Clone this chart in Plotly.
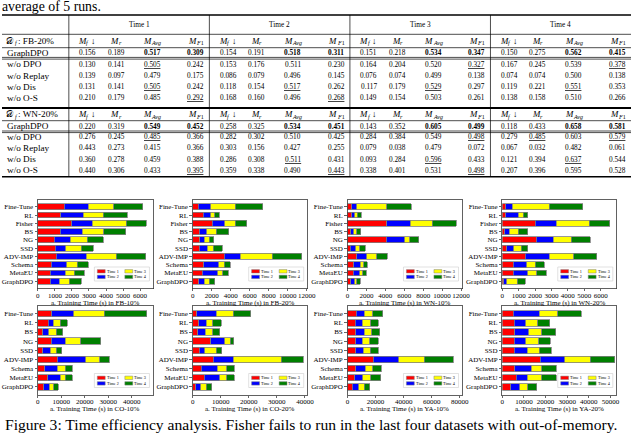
import plotly.graph_objects as go

W, H = 640, 433
SERIF = "Liberation Serif"


def X(p):
    return p / W


def Y(p):
    return 1 - p / H


# ---------------- table data ----------------
TIME_HEADERS = ["Time 1", "Time 2", "Time 3", "Time 4"]
METRIC_SUBS = ["<i>f</i>", "<i>r</i>", "<i>Avg</i>", "<i>F</i>1"]
METRIC_SUB_EM = [0.278, 0.389, 1.555, 1.111]
METRIC_ARROW = [True, False, False, False]
VARIANTS = ["GraphDPO", "w/o DPO", "w/o Replay", "w/o Dis", "w/o O-S"]

FB20_NAME = ": FB-20%"
FB20_SCORES = [
    [0.156, 0.189, 0.517, 0.309, 0.154, 0.191, 0.518, 0.311, 0.151, 0.218, 0.534, 0.347, 0.150, 0.275, 0.562, 0.415],
    [0.130, 0.141, 0.505, 0.242, 0.153, 0.176, 0.511, 0.230, 0.164, 0.204, 0.520, 0.327, 0.167, 0.245, 0.539, 0.378],
    [0.139, 0.097, 0.479, 0.175, 0.086, 0.079, 0.496, 0.145, 0.076, 0.074, 0.499, 0.138, 0.074, 0.074, 0.500, 0.138],
    [0.131, 0.141, 0.505, 0.242, 0.118, 0.154, 0.517, 0.262, 0.117, 0.179, 0.529, 0.297, 0.119, 0.221, 0.551, 0.353],
    [0.210, 0.179, 0.485, 0.292, 0.168, 0.160, 0.496, 0.268, 0.149, 0.154, 0.503, 0.261, 0.138, 0.158, 0.510, 0.266],
]
FB20_UNDERLINE = [(1, 2), (1, 11), (1, 15), (3, 2), (3, 6), (3, 10), (3, 14), (4, 3), (4, 7)]

WN20_NAME = ": WN-20%"
WN20_SCORES = [
    [0.220, 0.319, 0.549, 0.452, 0.258, 0.325, 0.534, 0.451, 0.143, 0.352, 0.605, 0.499, 0.118, 0.433, 0.658, 0.581],
    [0.276, 0.245, 0.485, 0.366, 0.282, 0.302, 0.510, 0.425, 0.284, 0.384, 0.549, 0.498, 0.279, 0.485, 0.603, 0.579],
    [0.443, 0.273, 0.415, 0.366, 0.303, 0.156, 0.427, 0.255, 0.079, 0.038, 0.479, 0.072, 0.067, 0.032, 0.482, 0.061],
    [0.360, 0.278, 0.459, 0.388, 0.286, 0.308, 0.511, 0.431, 0.093, 0.284, 0.596, 0.433, 0.121, 0.394, 0.637, 0.544],
    [0.440, 0.306, 0.433, 0.395, 0.359, 0.338, 0.490, 0.443, 0.338, 0.401, 0.531, 0.498, 0.207, 0.396, 0.595, 0.528],
]
WN20_UNDERLINE = [(1, 2), (1, 11), (1, 13), (1, 15), (3, 6), (3, 10), (3, 14), (4, 3), (4, 7), (4, 11)]
BEST_COLS = [2, 3]  # M_Avg and M_F1 of GraphDPO are bold

# ---------------- bar chart data (seconds per time step) ----------------
METHODS_A = ["Fine-Tune", "RL", "Fisher", "BS", "NG", "SSD", "ADV-IMP", "Schema", "MetaEU", "GraphDPO"]
METHODS_B = ["Fine-Tune", "RL", "BS", "NG", "SSD", "ADV-IMP", "Schema", "MetaEU", "GraphDPO"]

FB10 = [
    [1550, 1355, 1990, 1300, 970, 1010, 1065, 775, 735, 735],
    [1410, 1315, 1200, 1310, 930, 640, 1780, 925, 875, 525],
    [1490, 1160, 2000, 1260, 1000, 900, 1745, 620, 520, 580],
    [1700, 1430, 1160, 1300, 930, 700, 1740, 640, 580, 710],
]
FB20 = [
    [600, 1100, 2050, 680, 730, 700, 3330, 1160, 1020, 630],
    [1320, 780, 1330, 820, 500, 840, 1670, 1560, 1620, 580],
    [2580, 470, 1120, 980, 490, 630, 3400, 630, 510, 560],
    [2900, 450, 1200, 1320, 500, 950, 3100, 620, 610, 570],
]
WN10 = [
    [480, 480, 4150, 350, 4120, 310, 1000, 660, 590, 350],
    [520, 280, 2490, 310, 1940, 560, 1040, 690, 690, 410],
    [3150, 280, 2320, 340, 510, 410, 1040, 350, 350, 240],
    [2600, 410, 2530, 380, 940, 620, 1140, 380, 340, 350],
]
WN20 = [
    [200, 200, 2020, 160, 2060, 265, 1410, 660, 660, 100],
    [400, 760, 1280, 260, 1040, 440, 1440, 840, 900, 165],
    [2260, 335, 2000, 540, 1110, 460, 1500, 520, 540, 650],
    [2040, 265, 1260, 600, 1140, 400, 1400, 540, 570, 500],
]
CO10 = [
    [5940, 4520, 2120, 5650, 2120, 8200, 2830, 4240, 2400],
    [9320, 2120, 2540, 5940, 3110, 12300, 5370, 5370, 2550],
    [13010, 2970, 3110, 6780, 2690, 5930, 3530, 1980, 1830],
    [18090, 2830, 2830, 8480, 2260, 3960, 2830, 2970, 1980],
]
CO20 = [
    [1510, 2090, 1740, 6380, 2320, 7300, 3130, 4060, 1160],
    [6840, 2780, 2670, 4980, 1970, 7190, 5570, 5560, 1740],
    [6140, 2320, 2780, 1970, 4170, 17050, 3470, 2550, 1970],
    [6150, 3010, 2430, 1390, 1970, 7880, 2670, 2670, 1850],
]
YA10 = [
    [6260, 5570, 5800, 5800, 5800, 18320, 5800, 5100, 3250],
    [5800, 4860, 6260, 4630, 5560, 18080, 6720, 5800, 4630],
    [5800, 6270, 5330, 5570, 4870, 18090, 5340, 5800, 4180],
    [7420, 5330, 5570, 5800, 5800, 20870, 6260, 6950, 3940],
]
YA20 = [
    [5000, 5450, 5760, 5450, 5450, 17580, 5760, 6520, 3940],
    [12000, 5310, 6510, 5310, 6070, 11360, 7570, 5000, 4090],
    [8600, 5600, 6060, 6060, 5600, 11670, 5000, 6810, 3790],
    [11000, 5610, 6370, 5300, 5610, 11360, 6670, 6670, 4080],
]

TICKS_FB10 = [0, 1000, 2000, 3000, 4000, 5000, 6000]
TICKS_FB20 = [0, 2000, 4000, 6000, 8000, 10000, 12000]
TICKS_WN10 = [0, 2000, 4000, 6000, 8000, 10000, 12000]
TICKS_WN20 = [0, 1000, 2000, 3000, 4000, 5000, 6000]
TICKS_CO10 = [0, 10000, 20000, 30000, 40000]
TICKS_CO20 = [0, 10000, 20000, 30000, 40000]
TICKS_YA10 = [0, 20000, 40000, 60000, 80000]
TICKS_YA20 = [0, 10000, 20000, 30000, 40000, 50000]

CAPTION = "Figure 3: Time efficiency analysis. Fisher fails to run in the last four datasets with out-of-memory."
PRE_TEXT = "average of 5 runs."

COLORS = ["#ff0000", "#0000ff", "#ffff00", "#008000"]

charts = [
    (FB10, METHODS_A, "a. Training Time (s) in FB-10%", 6750, TICKS_FB10),
    (FB20, METHODS_A, "a. Training Time (s) in FB-20%", 12050, TICKS_FB20),
    (WN10, METHODS_A, "a. Training Time (s) in WN-10%", 12100, TICKS_WN10),
    (WN20, METHODS_A, "a. Training Time (s) in WN-20%", 6950, TICKS_WN20),
    (CO10, METHODS_B, "a. Training Time (s) in CO-10%", 49000, TICKS_CO10),
    (CO20, METHODS_B, "a. Training Time (s) in CO-20%", 40800, TICKS_CO20),
    (YA10, METHODS_B, "a. Training Time (s) in YA-10%", 81500, TICKS_YA10),
    (YA20, METHODS_B, "a. Training Time (s) in YA-20%", 52700, TICKS_YA20),
]

# ---------------- layout geometry (pixels) ----------------
COL_L = [36.5, 194, 351.5, 509]
COL_R = [153.5, 310.5, 468, 625]
ROW_T = [199.5, 305.6]
ROW_B = [288.5, 395.0]
TITLE_Y = [302.5, 409.0]

fig = go.Figure()
annotations = []
shapes = []
layout_axes = {}


def text(x, y, s, size, xanchor="center"):
    annotations.append(dict(x=X(x), y=Y(y), xref="paper", yref="paper", text=s,
                            showarrow=False, xanchor=xanchor, yanchor="middle",
                            borderpad=0, borderwidth=0,
                            font=dict(family=SERIF, size=size, color="black")))


def hline(y, w=0.7, x0=0, x1=W):
    shapes.append(dict(type="line", xref="paper", yref="paper", x0=X(x0), x1=X(x1),
                       y0=Y(y), y1=Y(y), line=dict(color="black", width=w)))


def vline(x, y0, y1, w=0.7):
    shapes.append(dict(type="line", xref="paper", yref="paper", x0=X(x), x1=X(x),
                       y0=Y(y0), y1=Y(y1), line=dict(color="black", width=w)))


# ---------------- charts ----------------
for i, (data, methods, title, rng, ticks) in enumerate(charts):
    n = i + 1
    r, c = divmod(i, 4)
    L, R, T, B = COL_L[c], COL_R[c], ROW_T[r], ROW_B[r]
    xa, ya = ("x" if n == 1 else f"x{n}"), ("y" if n == 1 else f"y{n}")
    for k in range(4):
        fig.add_trace(go.Bar(
            y=methods, x=data[k], orientation="h", name=TIME_HEADERS[k],
            marker=dict(color=COLORS[k], line=dict(color="#808080", width=0.8)),
            xaxis=xa, yaxis=ya, showlegend=False,
        ))
    axfont = dict(family=SERIF, size=7, color="black")
    layout_axes["xaxis" if n == 1 else f"xaxis{n}"] = dict(
        domain=[X(L), X(R)], anchor=ya, range=[0, rng], tickvals=ticks,
        tickformat="d", tickangle=0, ticks="outside", ticklen=2, tickwidth=0.6,
        ticklabelstandoff=-2,
        tickcolor="black", showline=True, mirror=True, linecolor="#3a3a3a", linewidth=0.8,
        showgrid=False, zeroline=False, tickfont=axfont, fixedrange=True,
    )
    nm = len(methods)
    layout_axes["yaxis" if n == 1 else f"yaxis{n}"] = dict(
        domain=[Y(B), Y(T)], anchor=xa, type="category", categoryorder="array",
        categoryarray=methods, range=[nm - 1 + 0.89, -0.89],
        ticks="outside", ticklen=2.5, tickwidth=0.6, tickcolor="black",
        showline=True, mirror=True, linecolor="#3a3a3a", linewidth=0.8,
        showgrid=False, zeroline=False, tickfont=axfont, fixedrange=True,
    )
    # x-axis caption under each chart
    text((L + R) / 2, TITLE_Y[r], title, 7)
    # legend (matplotlib-style, 2 columns, lower right)
    bR = R - 3.5
    bL = bR - 56
    bB = B - 7.5
    bT = bB - 14
    shapes.append(dict(type="rect", xref="paper", yref="paper", x0=X(bL), x1=X(bR),
                       y0=Y(bB), y1=Y(bT), fillcolor="rgba(255,255,255,0.85)",
                       line=dict(color="#cccccc", width=0.6)))
    for k in range(4):
        col, row = divmod(k, 2)
        sx0 = bL + 3 + col * 28
        sy = bT + 4.3 + row * 5.6
        shapes.append(dict(type="rect", xref="paper", yref="paper", x0=X(sx0), x1=X(sx0 + 8),
                           y0=Y(sy + 1.7), y1=Y(sy - 1.7), fillcolor=COLORS[k],
                           line=dict(color="#808080", width=0.5)))
        text(sx0 + 9.5, sy, TIME_HEADERS[k], 4.2, xanchor="left")

# ---------------- table ----------------
SEP_X = [68, 211, 354, 497]
COL_OFF = [19, 48, 85, 129]
LABEL_SIZE = 9.2
NUM_SIZE = 7.3
HEAD_SIZE = 8.8
SUB_SIZE = 6.0

text(0, 6.5, PRE_TEXT, 13.8, xanchor="left")

hline(15, 1.4)
for g in range(4):
    text(SEP_X[g] + 71.5, 25, TIME_HEADERS[g], NUM_SIZE)
hline(34.3)


def metric_header(cx, y, m):
    wM = 0.9 * HEAD_SIZE
    wsub = METRIC_SUB_EM[m] * SUB_SIZE + 1
    warr = 0.9 * HEAD_SIZE if METRIC_ARROW[m] else 0
    x0 = cx - (wM + wsub + warr) / 2
    text(x0, y, "<i>M</i>", HEAD_SIZE, xanchor="left")
    text(x0 + wM + 0.3, y + 2.4, METRIC_SUBS[m], SUB_SIZE, xanchor="left")
    if METRIC_ARROW[m]:
        text(x0 + wM + wsub + 2.2, y, "↓", HEAD_SIZE, xanchor="left")


def block(y_head, y_rows, name, scores, underline):
    text(4.5, y_head, "𝒟", LABEL_SIZE, xanchor="left")
    text(13.2, y_head + 2.4, "<i>f</i>", SUB_SIZE, xanchor="left")
    text(16.5, y_head, name, LABEL_SIZE, xanchor="left")
    for g in range(4):
        for m in range(4):
            metric_header(SEP_X[g] + COL_OFF[m], y_head, m)
    for ri, (yy, vname) in enumerate(zip(y_rows, VARIANTS)):
        text(5, yy, vname, LABEL_SIZE, xanchor="left")
        for ci, v in enumerate(scores[ri]):
            s = f"{v:.3f}"
            if ri == 0 and (ci % 4) in BEST_COLS:
                s = f"<b>{s}</b>"
            if (ri, ci) in underline:
                s = f"<u>{s}</u>"
            g, m = divmod(ci, 4)
            text(SEP_X[g] + COL_OFF[m], yy, s, NUM_SIZE)


block(41, [52.7, 64.3, 75.7, 86.7, 97.7], FB20_NAME, FB20_SCORES, FB20_UNDERLINE)
hline(47.7)
hline(57.4)
hline(59.1)
hline(108, 1.8)
block(114.3, [126, 136.8, 147.8, 159, 170.3], WN20_NAME, WN20_SCORES, WN20_UNDERLINE)
hline(120.7)
hline(131)
hline(132.6)
hline(176.7, 1.4)
for sx in SEP_X:
    vline(sx, 15, 176.7)

text(3, 424.0, CAPTION, 15.6, xanchor="left")

fig.update_layout(
    width=W, height=H, margin=dict(l=0, r=0, t=0, b=0),
    paper_bgcolor="white", plot_bgcolor="white",
    barmode="stack", bargap=0.3, showlegend=False,
    annotations=annotations, shapes=shapes,
    font=dict(family=SERIF, color="black"),
    **layout_axes,
)
fig.write_html("out.html", config={"displayModeBar": False, "staticPlot": True},
               post_script="document.body.style.margin='0px';document.body.style.overflow='hidden';")
